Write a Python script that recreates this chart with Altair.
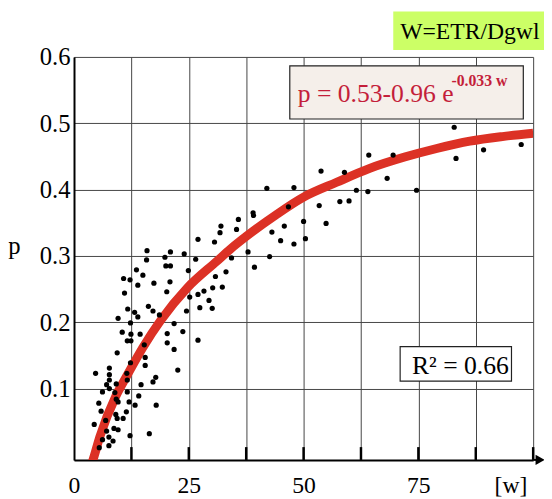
import altair as alt
import pandas as pd

# ---- scatter data (w, p) ----
pts_w = [15.9, 15.8, 19.8, 21.0, 20.0, 21.0, 13.6, 15.0, 10.8, 12.2, 17.4, 13.9, 20.9, 11.0, 20.2,
         11.7, 13.2, 16.2, 17.2, 18.6, 13.9, 9.6, 12.3, 10.5, 12.4, 14.4, 11.6, 12.4, 20.3, 20.3,
         21.8, 21.8, 15.3, 9.4, 15.5, 12.3, 15.5, 7.7, 7.7, 4.7, 11.5, 17.8, 17.2, 7.7, 7.1,
         9.2, 11.6, 14.6, 7.7, 6.2, 11.6, 8.9, 14.1, 9.2, 9.6, 12.0, 5.4, 13.3, 17.9, 5.9,
         11.4, 9.1, 9.4, 10.7, 6.9, 4.4, 8.7, 9.6, 7.1, 12.2, 16.4, 7.6, 6.2, 8.5, 7.6, 5.5,
         42.0, 39.0, 39.1, 35.8, 35.4, 32.0, 31.8, 27.0, 30.6, 43.1, 24.0, 26.5, 37.9, 42.6, 34.3,
         39.3, 24.9, 33.1, 30.8, 30.2, 32.3, 28.3, 27.0, 25.2, 29.4, 27.4, 30.1, 24.5, 23.7, 27.0,
         22.6, 64.2, 69.5, 53.8, 58.9, 68.2, 47.9, 61.5, 64.0, 57.9, 59.9, 46.7, 53.4, 50.0, 45.8,
         54.9, 45.0, 47.9, 50.4, 82.8, 89.2, 83.2, 97.4, 74.6]
pts_p = [0.308, 0.294, 0.298, 0.306, 0.285, 0.285, 0.279, 0.271, 0.266, 0.264, 0.259, 0.256, 0.261, 0.244, 0.246,
         0.220, 0.215, 0.224, 0.217, 0.211, 0.208, 0.206, 0.199, 0.185, 0.182, 0.182, 0.172, 0.172, 0.183, 0.169,
         0.198, 0.159, 0.166, 0.154, 0.147, 0.139, 0.135, 0.131, 0.121, 0.123, 0.123, 0.117, 0.110, 0.113, 0.106,
         0.107, 0.113, 0.106, 0.100, 0.095, 0.095, 0.094, 0.089, 0.084, 0.080, 0.080, 0.078, 0.075, 0.075, 0.066,
         0.065, 0.061, 0.055, 0.055, 0.052, 0.046, 0.040, 0.038, 0.036, 0.029, 0.032, 0.027, 0.023, 0.021, 0.014, 0.011,
         0.402, 0.365, 0.361, 0.355, 0.340, 0.345, 0.335, 0.325, 0.321, 0.336, 0.303, 0.295, 0.306, 0.299, 0.297,
         0.283, 0.278, 0.276, 0.269, 0.252, 0.253, 0.247, 0.242, 0.238, 0.233, 0.222, 0.221, 0.217, 0.186, 0.173,
         0.128, 0.452, 0.452, 0.428, 0.426, 0.417, 0.403, 0.399, 0.397, 0.382, 0.383, 0.374, 0.376, 0.352, 0.345,
         0.349, 0.323, 0.318, 0.326, 0.494, 0.460, 0.447, 0.468, 0.399]

# ---- fitted curve ----
curve_w = [3.4, 4.2, 5.6, 9.2, 11.4, 15.0, 18.9, 24.7, 31.1, 34.0, 37.6, 44.0, 50.1, 57.2, 64.4, 72.0, 79.0, 86.2, 93.3, 100.0]
curve_p = [-0.022, -0.006, 0.027, 0.090, 0.118, 0.162, 0.203, 0.252, 0.292, 0.310, 0.330, 0.362, 0.389, 0.411, 0.432, 0.449, 0.462, 0.473, 0.480, 0.485]

# ---- axes ----
x_grid_vals = [0, 12.5, 25, 37.5, 50, 62.5, 75, 87.5, 100]
x_inward_ticks = [12.5, 25, 37.5, 50, 62.5, 75, 87.5, 100]
y_tick_vals = [0.1, 0.2, 0.3, 0.4, 0.5, 0.6]
x_domain = [0, 100]
y_domain = [-0.0075, 0.6]

# ---- annotation texts ----
box_title = ["W=ETR/Dgwl"]
eq_main = ["p = 0.53-0.96 e"]
eq_exp = ["-0.033 w"]
r2_text = ["R\u00b2 = 0.66"]

FONT = "Liberation Serif"
W, H = 466, 409

pts = pd.DataFrame({"w": pts_w, "p": pts_p})
curve = pd.DataFrame({"w": curve_w, "p": curve_p})
ticks = pd.DataFrame({"w": x_inward_ticks})

xs = alt.Scale(domain=x_domain, nice=False, zero=False)
ys = alt.Scale(domain=y_domain, nice=False, zero=False)

x_axis = alt.Axis(
    values=x_grid_vals,
    labelExpr="datum.value % 25 == 0 && datum.value < 100 ? format(datum.value, 'd') : ''",
    grid=True, gridColor="#444444", gridWidth=1,
    ticks=False, tickSize=0,
    domainColor="black", domainWidth=2,
    labelFont=FONT, labelFontSize=24, labelColor="black", labelPadding=33,
    labelBaseline="alphabetic", labelOverlap=False, labelFlush=False,
    title="[w]", titleFont=FONT, titleFontSize=24, titleFontWeight="normal",
    titleColor="black", titleX=443, titleY=33, titleBaseline="alphabetic", titleAlign="center",
)
y_axis = alt.Axis(
    values=y_tick_vals, format=".1f",
    grid=True, gridColor="#444444", gridWidth=1,
    ticks=False, tickSize=0,
    domainColor="black", domainWidth=2,
    labelFont=FONT, labelFontSize=25, labelColor="black", labelPadding=4,
    title="p", titleAngle=0, titleFont=FONT, titleFontSize=25, titleFontWeight="normal",
    titleColor="black", titleX=-61, titleY=200, titleAlign="center", titleBaseline="alphabetic",
)

base_axes = alt.Chart(pts).mark_circle(size=0, opacity=0).encode(
    x=alt.X("w:Q", scale=xs, axis=x_axis),
    y=alt.Y("p:Q", scale=ys, axis=y_axis),
)

inward = alt.Chart(ticks).mark_rule(color="black", strokeWidth=2.5).encode(
    x=alt.X("w:Q", scale=xs), y=alt.value(H), y2=alt.value(H - 13)
)

line = alt.Chart(curve).mark_line(
    color="#dc3125", strokeWidth=9, strokeCap="butt", interpolate="monotone", clip=True
).encode(x=alt.X("w:Q", scale=xs), y=alt.Y("p:Q", scale=ys))

dots = alt.Chart(pts).mark_circle(size=28, color="black", opacity=1).encode(
    x=alt.X("w:Q", scale=xs), y=alt.Y("p:Q", scale=ys)
)

one = pd.DataFrame({"a": [1]})

# arrow at end of x axis
arrow_line = alt.Chart(one).mark_rule(color="black", strokeWidth=2).encode(
    x=alt.value(W), x2=alt.value(W + 5), y=alt.value(H)
)
arrow = alt.Chart(one).mark_point(shape="triangle-right", filled=True, color="black", size=110, opacity=1).encode(
    x=alt.value(W + 7), y=alt.value(H)
)

# green title box
g_box = alt.Chart(one).mark_rect(color="#ccff66").encode(
    x=alt.value(324), x2=alt.value(480), y=alt.value(-46), y2=alt.value(-7)
)
g_text = alt.Chart(pd.DataFrame({"t": box_title})).mark_text(
    font=FONT, fontSize=24, color="black", align="left", baseline="alphabetic"
).encode(x=alt.value(331), y=alt.value(-18), text="t:N")

# equation box
e_box = alt.Chart(one).mark_rect(fill="#f5efea", stroke="#222222", strokeWidth=1.2).encode(
    x=alt.value(219), x2=alt.value(456), y=alt.value(9), y2=alt.value(63)
)
e_text = alt.Chart(pd.DataFrame({"t": eq_main})).mark_text(
    font=FONT, fontSize=26, color="#c41e3a", align="left", baseline="alphabetic"
).encode(x=alt.value(227), y=alt.value(46), text="t:N")
e_sup = alt.Chart(pd.DataFrame({"t": eq_exp})).mark_text(
    font=FONT, fontSize=16, fontWeight="bold", color="#c41e3a", align="left", baseline="alphabetic"
).encode(x=alt.value(383), y=alt.value(30), text="t:N")

# R^2 box
r_box = alt.Chart(one).mark_rect(fill="white", stroke="#222222", strokeWidth=1.2).encode(
    x=alt.value(331), x2=alt.value(444), y=alt.value(294), y2=alt.value(329)
)
r_text = alt.Chart(pd.DataFrame({"t": r2_text})).mark_text(
    font=FONT, fontSize=26, color="black", align="left", baseline="alphabetic"
).encode(x=alt.value(343), y=alt.value(322), text="t:N")

chart = alt.layer(
    base_axes, inward, line, dots, arrow_line, arrow,
    g_box, g_text, e_box, e_text, e_sup, r_box, r_text
).properties(
    width=W, height=H,
    autosize=alt.AutoSizeParams(type="none"),
    padding={"left": 67, "top": 46, "right": 11, "bottom": 36},
    background="white",
).configure_view(stroke=None)

chart.save("out.html", embed_options={"renderer": "svg", "actions": False})
